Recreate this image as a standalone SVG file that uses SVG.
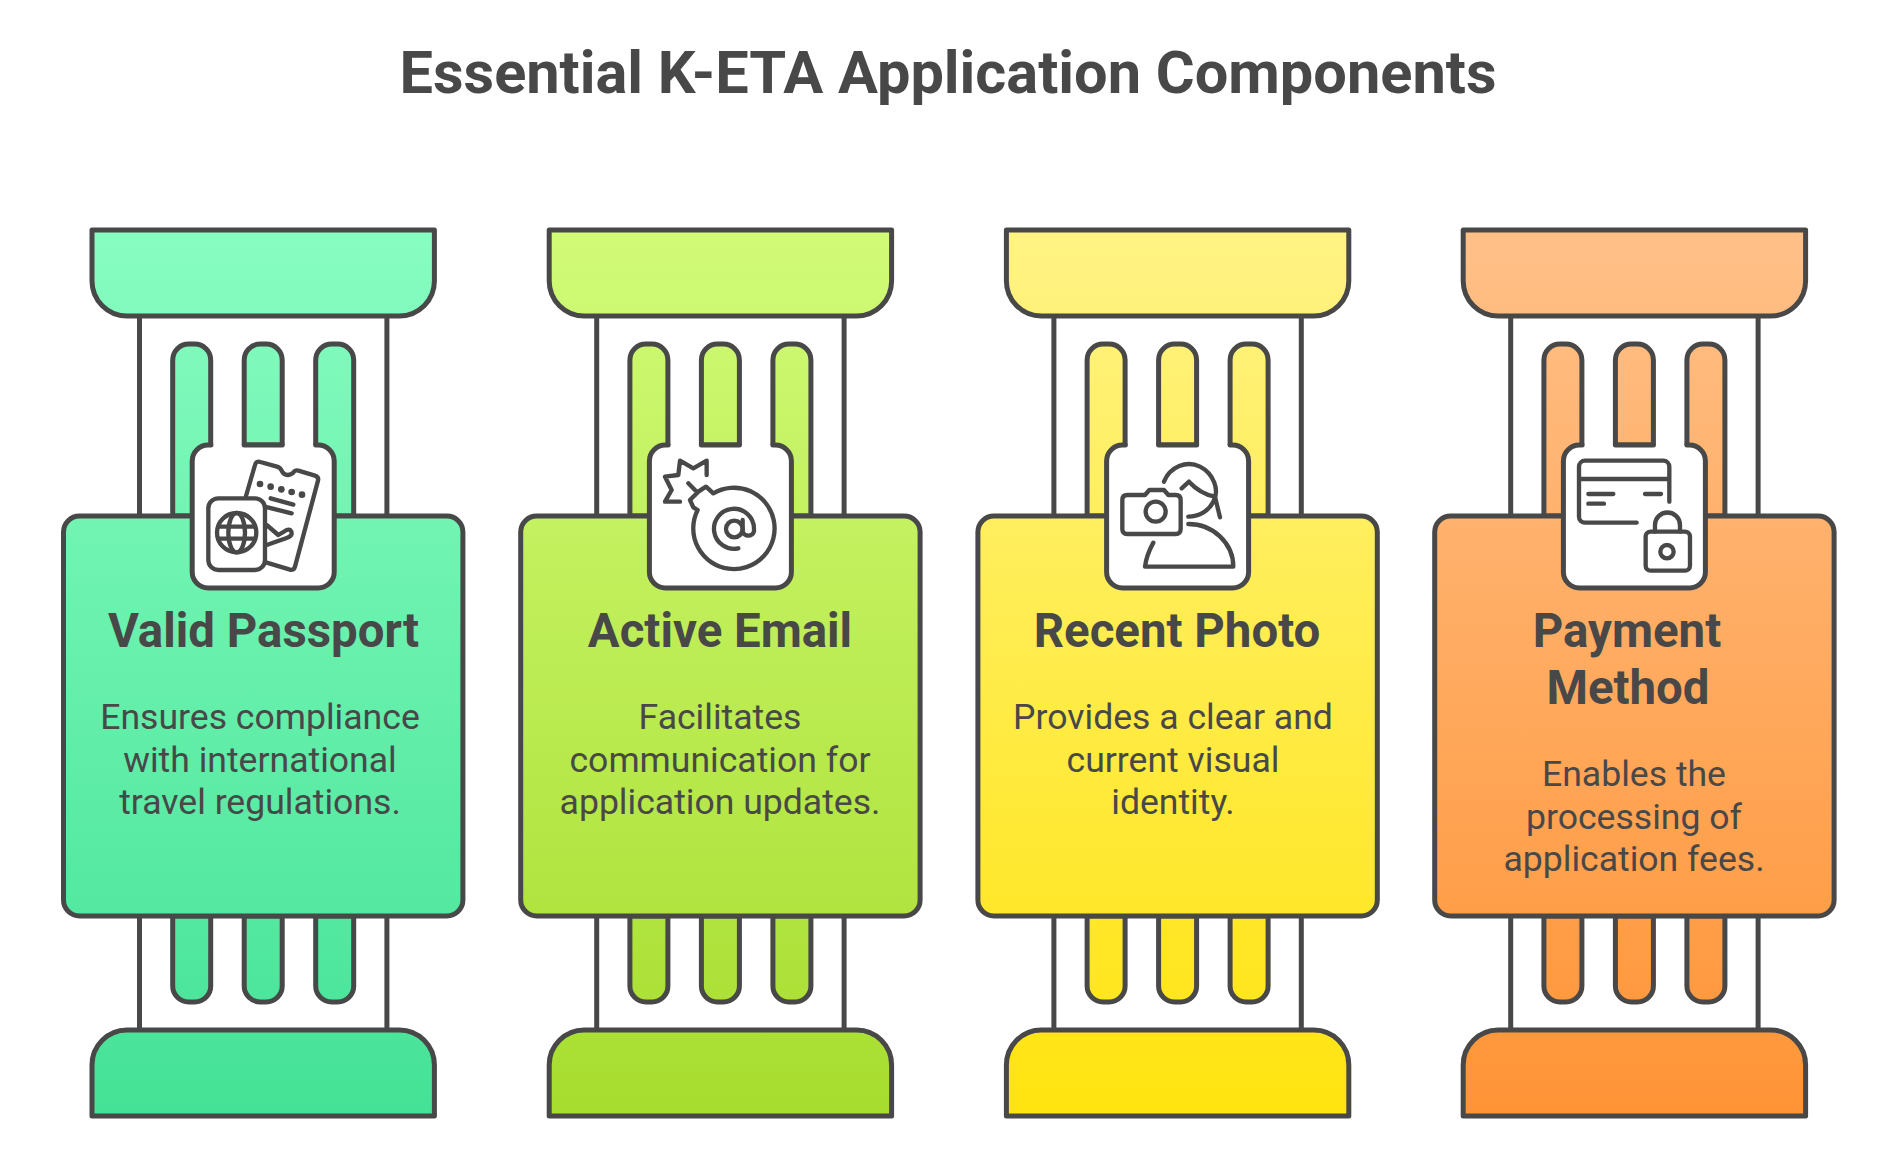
<svg xmlns="http://www.w3.org/2000/svg" width="1883" height="1155" viewBox="0 0 1883 1155">
<style>
text{font-family:Roboto,"Liberation Sans",sans-serif;fill:#484848;text-anchor:middle}
.t{font-size:59.5px;font-weight:700}
.h{font-size:47.4px;font-weight:700}
.b{font-size:35.6px}
.s{stroke:#484848;stroke-width:5;stroke-linejoin:round;stroke-linecap:round}
.i{fill:none;stroke:#484848;stroke-width:13;stroke-linecap:round;stroke-linejoin:round}
.d{fill:#484848;stroke:none}
</style>
<defs>
<linearGradient id="g1" gradientUnits="userSpaceOnUse" x1="0" y1="230" x2="0" y2="1115"><stop offset="0" stop-color="#88FDC1"/><stop offset="1" stop-color="#44E296"/></linearGradient>
<linearGradient id="g2" gradientUnits="userSpaceOnUse" x1="0" y1="230" x2="0" y2="1115"><stop offset="0" stop-color="#D1FB78"/><stop offset="1" stop-color="#A7DD2E"/></linearGradient>
<linearGradient id="g3" gradientUnits="userSpaceOnUse" x1="0" y1="230" x2="0" y2="1115"><stop offset="0" stop-color="#FFF385"/><stop offset="1" stop-color="#FFE40F"/></linearGradient>
<linearGradient id="g4" gradientUnits="userSpaceOnUse" x1="0" y1="230" x2="0" y2="1115"><stop offset="0" stop-color="#FFC088"/><stop offset="1" stop-color="#FF9436"/></linearGradient>
<g id="col" class="s">
<path fill="none" d="M-123.7 316V516M123.7 316V516M-123.7 916V1030M123.7 916V1030"/>
<path d="M-90.5 516V360a16 16 0 0 1 16-16h6a16 16 0 0 1 16 16V516Z"/>
<path d="M-19 445V360a16 16 0 0 1 16-16h6a16 16 0 0 1 16 16V445Z"/>
<path d="M52.5 516V360a16 16 0 0 1 16-16h6a16 16 0 0 1 16 16V516Z"/>
<path d="M-90.5 916V986a16 16 0 0 0 16 16h6a16 16 0 0 0 16-16V916Z"/>
<path d="M-19 916V986a16 16 0 0 0 16 16h6a16 16 0 0 0 16-16V916Z"/>
<path d="M52.5 916V986a16 16 0 0 0 16 16h6a16 16 0 0 0 16-16V916Z"/>
<path d="M-171.2 230H171.2V281a35 35 0 0 1-35 35H-136.2a35 35 0 0 1-35-35Z"/>
<path d="M-171.2 1116H171.2V1065a35 35 0 0 0-35-35H-136.2a35 35 0 0 0-35 35Z"/>
<rect x="-199.7" y="516" width="399.4" height="400" rx="16"/>
<path fill="#fff" stroke="none" d="M-71 461a16 16 0 0 1 16-16H55a16 16 0 0 1 16 16V572a16 16 0 0 1-16 16H-55a16 16 0 0 1-16-16Z"/>
<path fill="none" d="M-52.3 445H-55a16 16 0 0 0-16 16V572a16 16 0 0 0 16 16H55a16 16 0 0 0 16-16V461a16 16 0 0 0-16-16H52.5"/>
<path fill="none" d="M-19 445H19"/>
</g>
</defs>
<text class="t" x="948" y="93">Essential K-ETA Application Components</text>
<g id="node-passport">
<use href="#col" x="263.2" fill="url(#g1)"/>
<g transform="translate(175 430) scale(.3333)">
<path class="i" d="M213 198L240 105Q243 92 256 96L306 110Q316 113 320 122Q326 136 340 135Q352 133 358 124Q362 120 370 122L420 137Q432 141 429 152L360 410Q357 422 345 419L275 398"/>
<rect class="i" x="100" y="205" width="170" height="215" rx="30"/>
<circle class="i" cx="185" cy="308" r="59"/>
<ellipse class="i" cx="185" cy="308" rx="25" ry="59"/>
<path class="i" d="M130 290H240M130 326H240M287 205L355 224M278 232L350 250M275 285L310 315L335 300Q350 295 350 312Q348 320 335 324L275 345"/>
<g class="d"><circle cx="255" cy="162" r="10"/><circle cx="287" cy="170" r="10"/><circle cx="319" cy="178" r="10"/><circle cx="350" cy="186" r="10"/><circle cx="381" cy="194" r="10"/></g>
</g>
<text class="h" x="263.5" y="647">Valid Passport</text>
<text class="b" x="260" y="729">Ensures compliance</text>
<text class="b" x="260" y="772">with international</text>
<text class="b" x="260" y="814">travel regulations.</text>
</g>
<g id="node-email">
<use href="#col" x="720.4" fill="url(#g2)"/>
<g transform="translate(630 430) scale(.3333)">
<path class="i" d="M150 215H105L125 180L105 140L145 135L150 92L190 115L230 92V135M175 160L200 185M190 232L180 210L205 185L228 170L250 190A122 122 0 1 1 203 240Z"/>
<circle class="i" cx="313" cy="297" r="25"/>
<path class="i" d="M325 355A60 60 0 1 1 372 295V305A18 18 0 0 1 338 305V270"/>
</g>
<text class="h" x="720" y="647">Active Email</text>
<text class="b" x="720" y="729">Facilitates</text>
<text class="b" x="720" y="772">communication for</text>
<text class="b" x="720" y="814">application updates.</text>
</g>
<g id="node-photo">
<use href="#col" x="1177.6" fill="url(#g3)"/>
<g transform="translate(1090 430) scale(.3333)">
<path class="i" d="M112 195H165L178 180H222L235 195H257Q272 195 272 210V297Q272 312 257 312H112Q97 312 97 297V210Q97 195 112 195Z"/>
<circle class="i" cx="197" cy="245" r="30"/>
<path class="i" d="M222 155C240 110 290 90 330 110C370 130 390 180 370 215C355 245 325 260 295 260M275 175L297 155C320 180 350 195 375 200L390 262M295 282C370 282 430 340 430 410H165C168 385 178 360 190 338"/>
</g>
<text class="h" x="1177" y="647">Recent Photo</text>
<text class="b" x="1173" y="729">Provides a clear and</text>
<text class="b" x="1173" y="772">current visual</text>
<text class="b" x="1173" y="814">identity.</text>
</g>
<g id="node-payment">
<use href="#col" x="1634.4" fill="url(#g4)"/>
<g transform="translate(1545 430) scale(.3333)">
<path class="i" d="M373 215V110A18 18 0 0 0 355 92H120A18 18 0 0 0 102 110V260A18 18 0 0 0 120 278H275M102 147H373M130 192H205M130 221H177M300 192H348"/>
<rect class="i" x="302" y="305" width="133" height="117" rx="15"/>
<path class="i" d="M330 305V285A37 37 0 0 1 405 285V305"/>
<circle class="i" cx="366" cy="365" r="20"/>
</g>
<text class="h" x="1627" y="647">Payment</text>
<text class="h" x="1628" y="704">Method</text>
<text class="b" x="1634" y="786">Enables the</text>
<text class="b" x="1634" y="829">processing of</text>
<text class="b" x="1634" y="871">application fees.</text>
</g>
</svg>
